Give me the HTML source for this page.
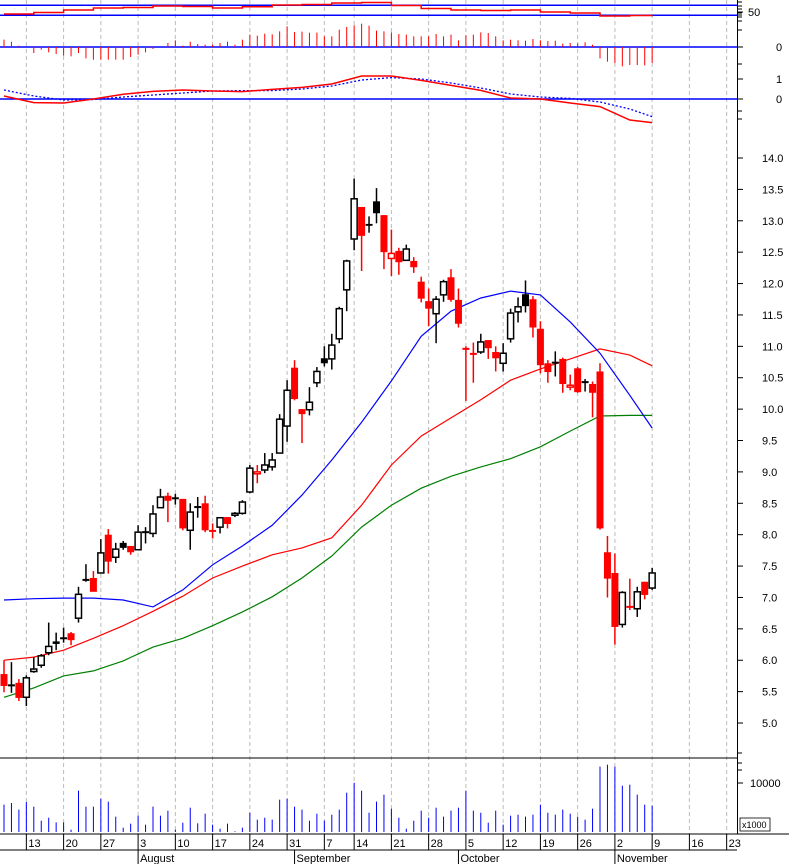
<!DOCTYPE html>
<html><head><meta charset="utf-8"><style>
html,body{margin:0;padding:0;background:#fff;}
svg{display:block;font-family:"Liberation Sans",sans-serif;}
text{font-size:11px;fill:#000;}
</style></head><body>
<svg id="chart" width="789" height="864" viewBox="0 0 789 864" xmlns="http://www.w3.org/2000/svg">
<rect x="0" y="0" width="789" height="864" fill="#fff"/>
<g id="grid"></g>
<g id="p1"></g>
<g id="p2"></g>
<g id="p3"></g>
<g id="main"></g>
<g id="vol"></g>
<g id="axes"></g>
</svg>
<script>
const candles = [
[5.78,6.0,5.49,5.59],[5.6,5.97,5.48,5.6],[5.64,5.7,5.35,5.40],[5.41,5.76,5.27,5.72],[5.82,6.05,5.8,5.86],
[5.92,6.1,5.88,6.07],[6.12,6.6,6.08,6.22],[6.30,6.44,6.16,6.26],[6.35,6.52,6.28,6.35],[6.43,6.45,6.24,6.32],
[6.67,7.17,6.6,7.05],[7.28,7.53,7.25,7.28],[7.31,7.42,7.13,7.09],[7.39,7.93,7.39,7.71],[8.0,8.09,7.38,7.57],
[7.64,7.87,7.55,7.77],[7.87,7.9,7.76,7.79],[7.82,7.82,7.68,7.72],[7.76,8.15,7.76,8.04],[8.04,8.12,7.86,8.04],
[8.02,8.47,7.96,8.33],[8.43,8.73,8.43,8.6],[8.62,8.67,8.2,8.54],[8.58,8.65,8.48,8.58],[8.57,8.57,8.07,8.1],
[8.07,8.5,7.76,8.36],[8.42,8.6,8.27,8.44],[8.5,8.62,8.04,8.07],[8.06,8.18,7.94,8.06],[8.12,8.27,8.02,8.27],
[8.28,8.28,8.1,8.17],[8.31,8.36,8.28,8.34],[8.34,8.55,8.32,8.52],[8.68,9.11,8.66,9.06],[8.97,9.11,8.82,9.0],
[9.03,9.3,8.98,9.11],[9.08,9.3,9.02,9.19],[9.3,9.92,9.3,9.84],[9.73,10.46,9.48,10.3],[10.66,10.78,10.14,10.16],
[10.0,10.0,9.46,9.92],[9.99,10.35,9.9,10.11],[10.42,10.67,10.35,10.6],[10.81,11.0,10.68,10.73],[10.8,11.2,10.63,11.02],
[11.12,11.63,11.05,11.6],[11.9,12.38,11.56,12.36],[12.71,13.67,12.53,13.35],[13.22,13.22,12.2,12.76],[12.95,13.07,12.81,12.92],
[13.31,13.52,12.96,13.12],[13.09,13.09,12.23,12.5],[12.4,12.86,12.12,12.48],[12.52,12.57,12.14,12.34],[12.37,12.62,12.37,12.55],
[12.36,12.42,12.17,12.26],[12.03,12.11,11.7,11.76],[11.72,11.92,11.32,11.6],[11.52,11.8,11.05,11.75],[11.82,12.06,11.71,12.03],
[12.1,12.23,11.71,11.74],[11.74,11.92,11.3,11.36],[10.97,11.0,10.13,10.96],[10.9,11.06,10.42,10.88],[10.91,11.2,10.88,11.07],
[11.1,11.1,10.8,10.97],[10.91,11.0,10.6,10.81],[10.73,11.05,10.6,10.89],[11.12,11.6,11.06,11.53],[11.55,11.78,11.38,11.63],
[11.83,12.05,11.54,11.64],[11.75,11.8,11.14,11.3],[11.28,11.4,10.57,10.7],[10.73,10.78,10.42,10.59],[10.76,10.92,10.52,10.74],
[10.8,10.82,10.26,10.4],[10.35,10.55,10.3,10.38],[10.65,10.67,10.26,10.27],[10.45,10.48,10.28,10.43],[10.4,10.44,9.87,10.26],
[10.6,10.73,8.08,8.1],[7.72,7.98,7.0,7.3],[7.39,7.7,6.25,6.53],[6.57,7.1,6.52,7.08],[6.83,7.3,6.8,6.85],
[6.82,7.17,6.69,7.09],[7.25,7.25,6.97,7.04],[7.15,7.47,7.12,7.39]
];
const volumes = [5.58,5.92,4.56,6.12,5.17,2.31,2.92,1.97,1.97,0.48,8.44,5.17,5.17,6.8,6.19,3.13,0.88,1.7,3.33,1.5,
5.17,3.33,4.35,0.48,1.9,4.96,1.77,3.74,1.5,0.68,1.7,0.14,0.88,3.94,2.52,2.92,2.52,6.6,6.8,5.17,
4.56,2.31,3.74,2.31,3.54,4.56,8.02,10.06,8.43,3.94,6.19,7.62,4.76,2.92,0.68,2.31,4.35,2.92,4.96,3.13,
4.35,4.96,8.43,4.35,3.94,1.9,4.35,1.5,3.33,3.54,3.13,3.54,5.58,3.94,3.54,4.56,3.74,3.13,2.52,4.76,
13.33,13.74,13.33,9.45,9.66,7.62,5.58,5.37];
const histZy = [120,126,138,142,160,150,158,163,168,170,160,176,180,180,180,180,180,172,165,158,148,142,130,122,138,126,133,135,135,130,
126,135,120,105,108,102,104,95,80,97,96,99,99,110,110,90,82,77,72,78,93,95,98,103,105,110,110,110,103,110,
105,122,107,105,98,100,110,122,120,122,123,118,122,124,123,132,130,131,128,135,176,186,190,200,196,196,197,190];
const histValues = histZy.map(z => (142 - z) / 300);
const sampleIdx = [0,4,8,12,16,20,24,28,32,36,40,44,48,52,56,60,64,68,72,76,80,84,87];
const maBlue = [6.96,6.98,6.99,6.99,6.96,6.85,7.12,7.52,7.82,8.15,8.63,9.19,9.79,10.45,11.16,11.56,11.77,11.88,11.82,11.39,10.89,10.22,9.70];
const maRed = [6.0,6.05,6.16,6.35,6.55,6.78,7.02,7.31,7.5,7.68,7.79,7.95,8.47,9.11,9.57,9.86,10.15,10.46,10.64,10.8,10.96,10.86,10.69];
const maGreen = [5.41,5.56,5.75,5.83,5.99,6.21,6.35,6.55,6.77,7.01,7.31,7.66,8.12,8.47,8.74,8.93,9.08,9.21,9.4,9.65,9.89,9.9,9.9];
const oscValues = [35,41,51,59,61,67,65,59,64,71,73,79,81,69,57,51,49,51,43,39,27,29,30];
const macdLine = [0.15,-0.18,-0.2,0.0,0.24,0.38,0.45,0.4,0.37,0.48,0.58,0.75,1.15,1.15,0.93,0.68,0.43,0.05,0.0,-0.2,-0.38,-1.05,-1.18];
const signalLine = [0.45,0.15,-0.05,-0.03,0.1,0.2,0.3,0.4,0.42,0.42,0.5,0.65,0.95,1.07,1.0,0.8,0.55,0.25,0.1,0.03,-0.15,-0.5,-0.88];
const priceTicks = [14.0,13.5,13.0,12.5,12.0,11.5,11.0,10.5,10.0,9.5,9.0,8.5,8.0,7.5,7.0,6.5,6.0,5.5,5.0];
const dayTickLabels = ["13","20","27","3","10","17","24","31","7","14","21","28","5","12","19","26","2","9","16","23"];
const dayTickIdx = [3,8,13,18,23,28,33,38,43,47,52,57,62,67,72,77,82,87,92,97];
const monthLabels = ["August","September","October","November"];
const monthIdx = [18,39,61,82];

const NS="http://www.w3.org/2000/svg";
const X = i => 4 + i*7.45;
const Y = p => 158 + (14-p)*62.78;
const VY = v => 832 - v*4.9;
const OY = v => 10.3 - (v-50)*0.25;
const HY = v => 47 - v*100;
const MY = v => 99 - v*20;
const PLOT_R = 737;
function mk(tag, attrs, parent){const e=document.createElementNS(NS,tag);for(const k in attrs)e.setAttribute(k,attrs[k]);parent.appendChild(e);return e;}
const G=id=>document.getElementById(id);

// gridlines
dayTickIdx.forEach((d,k)=>{
  const l=mk('line',{x1:X(d),x2:X(d),y1:0,y2:834,stroke:'#bbb','stroke-dasharray':'4,3','stroke-width':1},G('grid'));
  
  
});

// panel 1
[[5.3,'osc-upper-line'],[15.3,'osc-lower-line']].forEach(a=>{
  const l=mk('line',{x1:0,x2:PLOT_R,y1:a[0],y2:a[0],stroke:'#0000ff','stroke-width':1.5},G('p1'));
  
  
});
function stepPath(vals, fy){let d='';vals.forEach((v,k)=>{const x=X(sampleIdx[k]),y=fy(v);if(k===0)d+='M'+x+','+y;else d+=' H'+x+' V'+y;});return d;}
function linePath(vals, fy){return vals.map((v,k)=>(k?'L':'M')+X(sampleIdx[k]).toFixed(1)+','+fy(v).toFixed(1)).join(' ');}
const osc=mk('path',{d:stepPath(oscValues,OY),fill:'none',stroke:'#ff0000','stroke-width':1.5},G('p1'));



// panel 2
const hz=mk('line',{x1:0,x2:PLOT_R,y1:47,y2:47,stroke:'#0000ff','stroke-width':1.5},G('p2'));


histValues.forEach((v,i)=>{
  const b=mk('line',{x1:X(i),x2:X(i),y1:HY(0),y2:HY(v),stroke:'#ff0000','stroke-width':1},G('p2'));
  
  
});

// panel 3
const mz=mk('line',{x1:0,x2:PLOT_R,y1:99,y2:99,stroke:'#0000ff','stroke-width':1.5},G('p3'));


const sig=mk('path',{d:linePath(signalLine,MY),fill:'none',stroke:'#0000ff','stroke-width':1.3,'stroke-dasharray':'2,2'},G('p3'));


const mac=mk('path',{d:linePath(macdLine,MY),fill:'none',stroke:'#ff0000','stroke-width':1.5},G('p3'));



// main: moving averages
[[maGreen,'#008000','ma-long'],[maRed,'#ff0000','ma-mid'],[maBlue,'#0000ff','ma-short']].forEach(a=>{
  const p=mk('path',{d:linePath(a[0],Y),fill:'none',stroke:a[1],'stroke-width':1.2},G('main'));
  
  
});
// candles
candles.forEach((c,i)=>{
  const [o,h,l,cl]=c; const prev=i?candles[i-1][3]:o;
  const col = cl<prev ? '#ff0000' : '#000';
  const g=mk('g',{},G('main'));
  
  
  const x=X(i);
  mk('line',{x1:x,x2:x,y1:Y(h),y2:Y(l),stroke:col,'stroke-width':1.5},g);
  const top=Y(Math.max(o,cl)), bot=Y(Math.min(o,cl));
  if(Math.abs(bot-top)<1.5){
    mk('line',{x1:x-3.5,x2:x+3.5,y1:Y(cl),y2:Y(cl),stroke:col,'stroke-width':2},g);
  } else if(cl>o){
    mk('rect',{x:x-3,y:top,width:6,height:bot-top,fill:'#fff',stroke:col,'stroke-width':1.5},g);
  } else {
    mk('rect',{x:x-3.5,y:top,width:7,height:bot-top,fill:col},g);
  }
});

// volume
const vt=mk('line',{x1:0,x2:PLOT_R,y1:758,y2:758,stroke:'#000','stroke-width':1},G('vol'));


volumes.forEach((v,i)=>{
  const b=mk('line',{x1:X(i),x2:X(i),y1:VY(0),y2:VY(v),stroke:'#0000ff','stroke-width':1},G('vol'));
  
  
});

// axes
const A=G('axes');
mk('line',{x1:737.5,x2:737.5,y1:0,y2:834,stroke:'#000','stroke-width':1},A);
mk('line',{x1:0,x2:789,y1:834,y2:834,stroke:'#000','stroke-width':1},A);
mk('line',{x1:0,x2:737,y1:850,y2:850,stroke:'#000','stroke-width':1},A);
priceTicks.forEach(p=>{
  mk('line',{x1:737,x2:743,y1:Y(p),y2:Y(p),stroke:'#000'},A);
  const t=mk('text',{x:762,y:Y(p)+4},A); t.textContent=p.toFixed(1);
  
  
});
[[12,'50',748],[47,'0',776],[79,'1',776],[99,'0',776]].forEach(a=>{
  mk('line',{x1:737,x2:743,y1:a[0],y2:a[0],stroke:'#000'},A);
  const t=mk('text',{x:a[2],y:a[0]+4},A); t.textContent=a[1];
  
  
});
[2,6,9,13,15,17,21,30,64,111,119,753,763,770].forEach(y=>mk('line',{x1:737,x2:742,y1:y,y2:y,stroke:'#000'},A));
mk('line',{x1:737,x2:743,y1:VY(10),y2:VY(10),stroke:'#000'},A);
const vl=mk('text',{x:750,y:VY(10)+4},A); vl.textContent='10000';


mk('rect',{x:740,y:818,width:30,height:13,fill:'#fff',stroke:'#000','stroke-width':0.8},A);
const xu=mk('text',{x:742,y:828,style:'font-size:9px'},A); xu.textContent='x1000';


dayTickIdx.forEach((d,k)=>{
  const x=X(d);
  mk('line',{x1:x,x2:x,y1:834,y2:850,stroke:'#000'},A);
  const t=mk('text',{x:x+2,y:847},A); t.textContent=dayTickLabels[k];
  
  
});
monthIdx.forEach((d,k)=>{
  const x=X(d);
  mk('line',{x1:x,x2:x,y1:850,y2:864,stroke:'#000'},A);
  const t=mk('text',{x:x+2,y:862},A); t.textContent=monthLabels[k];
  
  
});
</script>
</body></html>
